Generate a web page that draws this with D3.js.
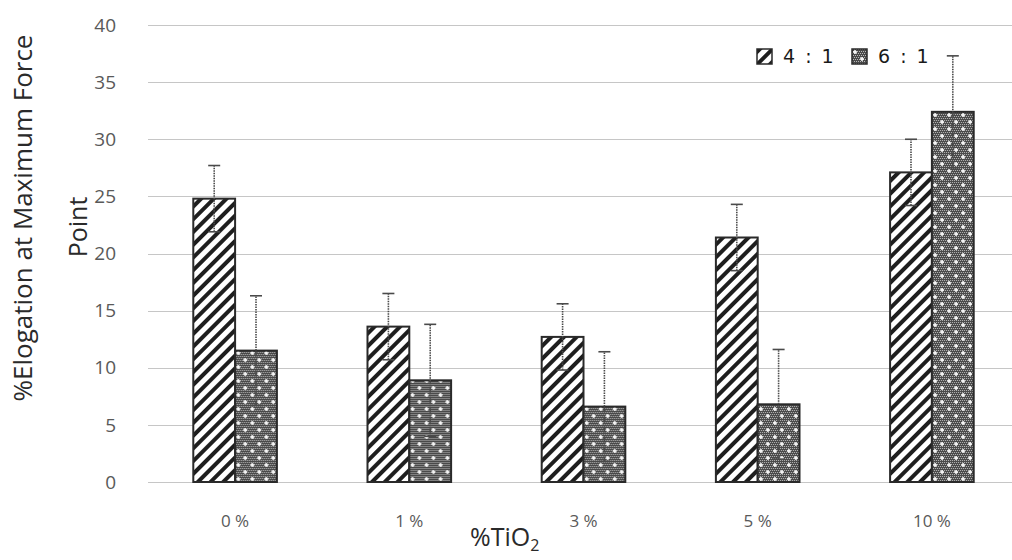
<!DOCTYPE html>
<html>
<head>
<meta charset="utf-8">
<script src="https://cdn.jsdelivr.net/npm/d3@7"></script>
<style>
  body { margin: 0; background: #fff; }
  svg { display: block; }
</style>
</head>
<body>
<svg id="chart" width="1012" height="560"></svg>
<script>
// data
const categories = ['0 %', '1 %', '3 %', '5 %', '10 %'];
const series = ['4 : 1', '6 : 1'];
const ratio41 = [24.8, 13.6, 12.7, 21.4, 27.1];
const ratio61 = [11.5, 8.9, 6.6, 6.8, 32.4];
const err41 = [2.9, 2.9, 2.9, 2.9, 2.9];
const err61 = [4.8, 4.9, 4.8, 4.8, 4.9];
const yTicks = [0, 5, 10, 15, 20, 25, 30, 35, 40];

const svg = d3.select('#chart');
const width = 1012;
const height = 560;

// plot area
const margin = { top: 25, right: -7, bottom: 78, left: 148 };
const x0 = d3.scaleBand()
  .domain(categories)
  .range([margin.left, width - margin.right])
  .paddingInner(0.52)
  .paddingOuter(0.26);
const x1 = d3.scaleBand()
  .domain(series)
  .range([0, x0.bandwidth()]);
const y = d3.scaleLinear()
  .domain([0, 40])
  .range([height - margin.bottom, margin.top]);

// fill patterns
const defs = svg.append('defs');
const hatch = defs.append('pattern')
  .attr('id', 'hatch')
  .attr('patternUnits', 'userSpaceOnUse')
  .attr('width', 9).attr('height', 9)
  .attr('patternTransform', 'rotate(45)');
hatch.append('rect').attr('width', 9).attr('height', 9).attr('fill', '#fff');
hatch.append('rect').attr('x', 0).attr('y', 0).attr('width', 4).attr('height', 9).attr('fill', '#1e1e1e');

const dots = defs.append('pattern')
  .attr('id', 'dots')
  .attr('patternUnits', 'userSpaceOnUse')
  .attr('width', 14).attr('height', 14);
dots.append('rect').attr('width', 14).attr('height', 14).attr('fill', '#4a4a4a');
// fine checker for a dark grainy look
for (let i = 0; i < 14; i += 2) {
  for (let j = 0; j < 14; j += 2) {
    dots.append('rect').attr('x', i + ((j / 2) % 2)).attr('y', j)
      .attr('width', 1).attr('height', 1).attr('fill', '#b8b8b8');
  }
}
// white plus signs
[[3, 3], [10, 10]].forEach(([cx, cy]) => {
  dots.append('rect').attr('x', cx - 2).attr('y', cy - 0.75).attr('width', 4).attr('height', 1.5).attr('fill', '#fff');
  dots.append('rect').attr('x', cx - 0.75).attr('y', cy - 2).attr('width', 1.5).attr('height', 4).attr('fill', '#fff');
});

const fills = { '4 : 1': 'url(#hatch)', '6 : 1': 'url(#dots)' };

// gridlines
svg.append('g')
  .selectAll('line')
  .data(yTicks)
  .join('line')
  .attr('x1', margin.left)
  .attr('x2', width)
  .attr('y1', d => Math.round(y(d)) + 0.5)
  .attr('y2', d => Math.round(y(d)) + 0.5)
  .attr('stroke', '#c6c6c6')
  .attr('stroke-width', 1);

// y tick labels
svg.append('g')
  .selectAll('text')
  .data(yTicks)
  .join('text')
  .attr('x', 116)
  .attr('y', d => y(d))
  .attr('dy', '0.35em')
  .attr('text-anchor', 'end')
  .attr('font-family', 'Open Sans, sans-serif')
  .attr('font-size', 19)
  .attr('fill', '#595959')
  .text(d => d);

// x tick labels
svg.append('g')
  .selectAll('text')
  .data(categories)
  .join('text')
  .attr('x', d => x0(d) + x0.bandwidth() / 2)
  .attr('y', 527)
  .attr('text-anchor', 'middle')
  .attr('font-family', 'Open Sans, sans-serif')
  .attr('font-size', 17)
  .attr('fill', '#595959')
  .text(d => d);

// bars
const rows = categories.map((c, i) => ({
  cat: c,
  vals: [
    { s: series[0], v: ratio41[i], e: err41[i] },
    { s: series[1], v: ratio61[i], e: err61[i] }
  ]
}));

const groups = svg.append('g')
  .selectAll('g')
  .data(rows)
  .join('g')
  .attr('transform', d => `translate(${x0(d.cat)},0)`);

groups.selectAll('rect')
  .data(d => d.vals)
  .join('rect')
  .attr('x', d => x1(d.s))
  .attr('y', d => y(d.v))
  .attr('width', x1.bandwidth())
  .attr('height', d => y(0) - y(d.v))
  .attr('fill', d => fills[d.s])
  .attr('stroke', '#2a2a2a')
  .attr('stroke-width', 2);

// error bars
const eb = groups.selectAll('g.err')
  .data(d => d.vals)
  .join('g')
  .attr('class', 'err')
  .attr('stroke', '#4a4a4a')
  .attr('stroke-width', 1.6);
eb.append('line')
  .attr('x1', d => x1(d.s) + x1.bandwidth() / 2)
  .attr('x2', d => x1(d.s) + x1.bandwidth() / 2)
  .attr('y1', d => y(d.v - d.e))
  .attr('y2', d => y(d.v + d.e))
  .attr('stroke-dasharray', '1.5,1');
eb.append('line')
  .attr('x1', d => x1(d.s) + x1.bandwidth() / 2 - 6)
  .attr('x2', d => x1(d.s) + x1.bandwidth() / 2 + 6)
  .attr('y1', d => y(d.v + d.e))
  .attr('y2', d => y(d.v + d.e));
eb.append('line')
  .attr('x1', d => x1(d.s) + x1.bandwidth() / 2 - 6)
  .attr('x2', d => x1(d.s) + x1.bandwidth() / 2 + 6)
  .attr('y1', d => y(d.v - d.e))
  .attr('y2', d => y(d.v - d.e));

// legend
const legend = svg.append('g')
  .selectAll('g')
  .data(series)
  .join('g')
  .attr('transform', (d, i) => `translate(${757 + i * 95},49)`);
legend.append('rect')
  .attr('width', 15).attr('height', 15)
  .attr('fill', d => fills[d])
  .attr('stroke', '#2a2a2a')
  .attr('stroke-width', 1.5);
legend.append('text')
  .attr('x', 26)
  .attr('y', 14)
  .attr('font-family', 'DejaVu Sans, sans-serif')
  .attr('font-size', 19)
  .attr('letter-spacing', 2)
  .attr('fill', '#1a1a1a')
  .text(d => d);

// axis titles
svg.append('text')
  .attr('transform', 'translate(32,218) rotate(-90)')
  .attr('text-anchor', 'middle')
  .attr('font-family', 'Open Sans, sans-serif')
  .attr('font-size', 26)
  .attr('fill', '#2a2a2a')
  .text('%Elogation at Maximum Force');
svg.append('text')
  .attr('transform', 'translate(87,227) rotate(-90)')
  .attr('text-anchor', 'middle')
  .attr('font-family', 'Open Sans, sans-serif')
  .attr('font-size', 25)
  .attr('fill', '#2a2a2a')
  .text('Point');

const xt = svg.append('text')
  .attr('x', 470)
  .attr('y', 546)
  .attr('font-family', 'Open Sans, sans-serif')
  .attr('font-size', 25)
  .attr('fill', '#2a2a2a');
xt.append('tspan').text('%TiO');
xt.append('tspan').attr('font-size', 16).attr('dy', 5).text('2');
</script>
</body>
</html>
